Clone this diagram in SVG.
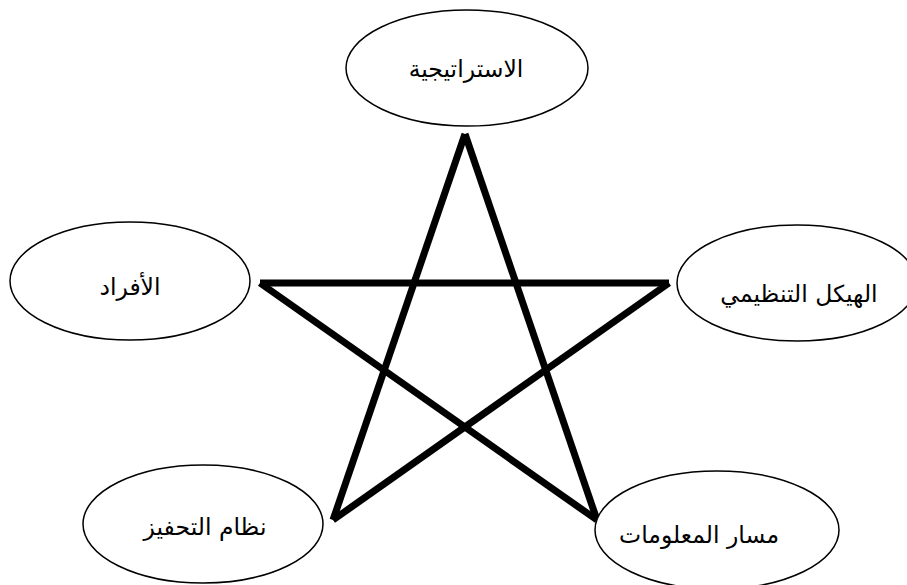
<svg xmlns="http://www.w3.org/2000/svg" width="907" height="585" viewBox="0 0 907 585">
<style>
.node ellipse{fill:#fff;stroke:#000;stroke-width:1.5}
.node text{font-family:"DejaVu Sans","Noto Sans",sans-serif;font-size:23.5px;fill:#000;text-anchor:middle}
.edge{stroke:#000;stroke-width:7;stroke-linecap:butt;fill:none}
</style>
<rect width="907" height="585" fill="#fff"/>
<g id="connectors">
<line class="edge" x1="465" y1="134" x2="333" y2="520"/>
<line class="edge" x1="333" y1="520" x2="669" y2="283"/>
<line class="edge" x1="669" y1="283" x2="260" y2="283"/>
<line class="edge" x1="260" y1="283" x2="597" y2="520"/>
<line class="edge" x1="597" y1="520" x2="465" y2="134"/>
</g>
<g id="node-strategy" class="node">
<ellipse cx="467" cy="68" rx="121" ry="58"/>
<text x="466" y="77">الاستراتيجية</text>
</g>
<g id="node-people" class="node">
<ellipse cx="130" cy="281" rx="120" ry="59"/>
<text x="130" y="295">الأفراد</text>
</g>
<g id="node-structure" class="node">
<ellipse cx="797" cy="283" rx="120" ry="58"/>
<text x="799" y="302">الهيكل التنظيمي</text>
</g>
<g id="node-incentive" class="node">
<ellipse cx="203" cy="524" rx="120" ry="59"/>
<text x="205" y="535">نظام التحفيز</text>
</g>
<g id="node-information" class="node">
<ellipse cx="717" cy="530" rx="122" ry="59"/>
<text x="699" y="543">مسار المعلومات</text>
</g>
</svg>
